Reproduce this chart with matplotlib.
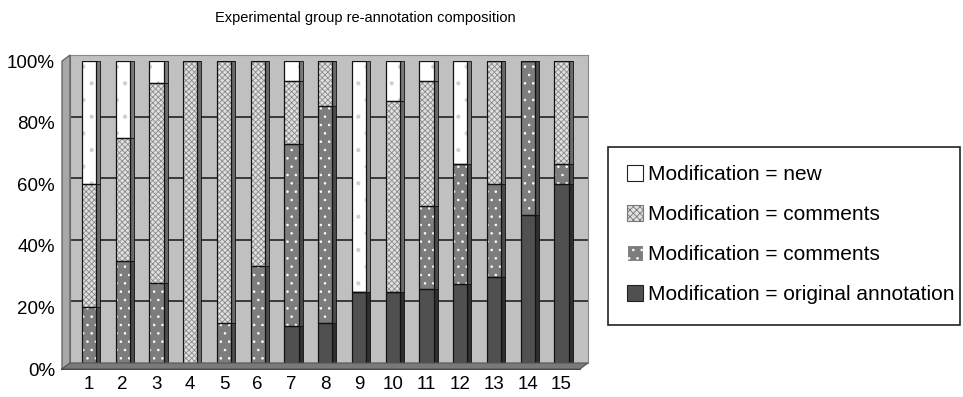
import matplotlib.pyplot as plt
from matplotlib.patches import Patch, Polygon, Rectangle
import numpy as np

plt.rcParams['font.family'] = ['Liberation Sans', 'DejaVu Sans']
plt.rcParams['hatch.linewidth'] = 0.6

# groups 1..15, percent of each modification type
groups = [str(i) for i in range(1, 16)]
original = [0, 0, 0, 0, 0, 0, 14, 15, 25, 25, 26, 27.5, 30, 50, 60]
comments_dot = [20, 35, 28, 0, 15, 33.5, 59, 70.5, 0, 0, 27, 39, 30, 50, 6.5]
comments_x = [40, 40, 65, 100, 85, 66.5, 20.5, 14.5, 0, 62, 40.5, 0, 40, 0, 33.5]
new = [40, 25, 7, 0, 0, 0, 6.5, 0, 75, 13, 6.5, 33.5, 0, 0, 0]

labels = ['Modification = new', 'Modification = comments',
          'Modification = comments', 'Modification = original annotation']

W, H = 963, 397
fig = plt.figure(figsize=(W / 100, H / 100), dpi=100)

def px(l, t, w, h):
    return [l / W, 1 - (t + h) / H, w / W, h / H]

def fxy(x, y):
    return (x / W, 1 - y / H)

# front face box (pixels) and depth offset of the back wall
fl, ft, fw, fh = 62, 61, 518, 308
dx, dy = 8, 6

# back wall
back = fig.add_axes(px(fl + dx, ft - dy, fw, fh))
back.set_facecolor('#c0c0c0')
back.set_xlim(0, 1)
back.set_ylim(0, 100)
back.set_yticks([20, 40, 60, 80])
back.set_xticks([])
back.yaxis.grid(True, color='#222222', lw=1.2)
back.tick_params(left=False, labelleft=False)
for s in back.spines.values():
    s.set_color('#888888')
    s.set_linewidth(0.8)

# floor and left side wall
floor = Polygon([fxy(fl, ft + fh), fxy(fl + fw, ft + fh),
                 fxy(fl + fw + dx, ft + fh - dy), fxy(fl + dx, ft + fh - dy)],
                closed=True, transform=fig.transFigure, fc='#7a7a7a', ec='#555555', lw=0.8)
wall = Polygon([fxy(fl, ft), fxy(fl + dx, ft - dy),
                fxy(fl + dx, ft + fh - dy), fxy(fl, ft + fh)],
               closed=True, transform=fig.transFigure, fc='#a8a8a8', ec='#555555', lw=0.8)
fig.patches.extend([wall, floor])

ax = fig.add_axes(px(fl, ft, fw, fh))
ax.patch.set_alpha(0)
x = np.arange(len(groups))
bw = 0.42
side = 0.12

series = [
    (original, '#505050', None, '#505050'),
    (comments_dot, '#7d7d7d', '..', 'white'),
    (comments_x, '#e0e0e0', 'xxxxxx', '#8a8a8a'),
    (new, 'white', '.', '#d0d0d0'),
]
side_cols = ['#2e2e2e', '#4a4a4a', '#6a6a6a', '#7a7a7a']

bottom = np.zeros(len(groups))
for (vals, fc, hatch, hc), sc in zip(series, side_cols):
    vals = np.array(vals, dtype=float)
    # side face for pseudo 3d depth
    ax.bar(x + bw / 2 + side / 2, vals, side, bottom=bottom, color=sc,
           edgecolor='#111111', linewidth=0.6, zorder=2)
    ax.bar(x, vals, bw, bottom=bottom, color=fc, hatch=hatch,
           edgecolor=hc, linewidth=0, zorder=3)
    ax.bar(x, vals, bw, bottom=bottom, fill=False, edgecolor='#111111',
           linewidth=0.9, zorder=4)
    bottom += vals

ax.set_xlim(-0.8, len(groups) - 0.45)
ax.set_ylim(0, 100)
ax.set_xticks(x)
ax.set_xticklabels(groups)
ax.set_yticks([0, 20, 40, 60, 80, 100])
ax.set_yticklabels(['0%', '20%', '40%', '60%', '80%', '100%'])
ax.tick_params(axis='both', labelsize=13.5, length=0, pad=5)
for s in ['top', 'right']:
    ax.spines[s].set_visible(False)
ax.spines['left'].set_color('#333333')
ax.spines['bottom'].set_color('#111111')
ax.spines['bottom'].set_linewidth(1.2)

fig.text(365 / W, 1 - 18 / H, 'Experimental group re-annotation composition',
         ha='center', va='center', fontsize=10.5)

# legend box drawn by hand (text sits close to the right edge)
fig.patches.append(Rectangle(fxy(608, 325), 352 / W, 178 / H, transform=fig.transFigure,
                             fc='white', ec='#222222', lw=1.2))
handles = [
    Patch(facecolor='white', edgecolor='#222222', lw=0.8),
    Patch(facecolor='#e0e0e0', edgecolor='#777777', hatch='xxxxx', lw=0.8),
    Patch(facecolor='#7d7d7d', edgecolor='white', hatch='..', lw=0.8),
    Patch(facecolor='#505050', edgecolor='#222222', lw=0.8),
]
leg = fig.legend(handles, labels, loc='upper left',
                 bbox_to_anchor=(627 / W, 1 - 165 / H), fontsize=15,
                 frameon=False, handlelength=0.78, handleheight=0.8,
                 handletextpad=0.24, labelspacing=1.0, borderpad=0,
                 borderaxespad=0)

fig.savefig('out.png', dpi=100)
